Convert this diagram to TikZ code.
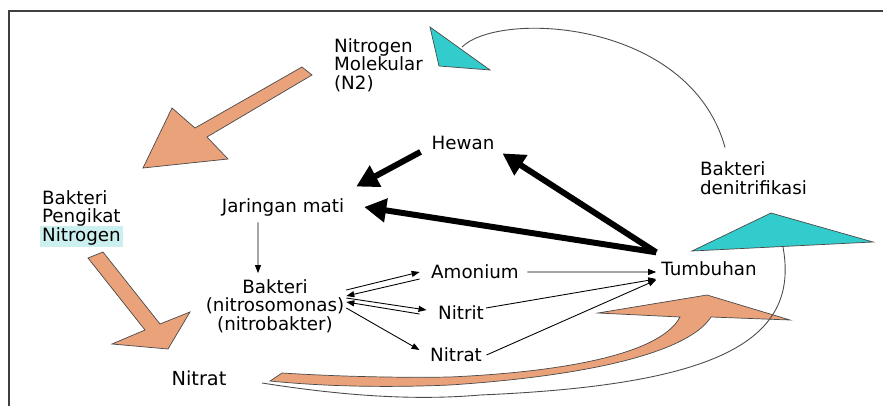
\documentclass[tikz,border=0pt]{standalone}
\usepackage{fontspec}
\setmainfont{DejaVu Sans}
\usepackage{tikz}
\usetikzlibrary{arrows.meta,positioning,calc}
\definecolor{CycleOrange}{HTML}{E9A27A}
\definecolor{CycleCyan}{HTML}{33CCCC}
\definecolor{CycleMark}{HTML}{CCEFEF}
\definecolor{CycleEdge}{HTML}{4A4A4A}

\begin{document}
\begin{tikzpicture}[
    term/.style={
      inner sep=1pt,
      font=\fontsize{10.4}{10.6}\selectfont
    },
    flow/.style={
      line width=0.5pt,
      -{Triangle[length=1.6mm,width=1.2mm]}
    },
    feed/.style={
      line width=3.4pt,
      -{Triangle[length=4.4mm,width=4.6mm]}
    },
    blob/.style={
      draw=CycleEdge,
      line width=0.4pt,
      fill=CycleOrange
    },
    wedge/.style={
      draw=CycleEdge,
      line width=0.4pt,
      fill=CycleCyan
    },
    cycleline/.style={
      line width=0.5pt,
      color=CycleEdge
    },
    frame/.style={
      line width=1.2pt,
      color=black!75
    }
  ]

  % Frame
  \useasboundingbox (0,0) rectangle (17.66,8.1);
  \draw[frame] (17.9,7.88) -- (0.18,7.88) -- (0.18,-0.2);

  % Terms
  \node[term,align=left,anchor=west] (n2) at (6.64,6.8) {Nitrogen\\Molekular\\(N2)};
  \node[term] (hew) at (9.26,5.24) {Hewan};
  \node[term,align=left,anchor=west] (den) at (13.96,4.54) {Bakteri\\denitrifikasi};
  \node[term,align=left,anchor=west] (fix) at (0.8,3.78)
    {Bakteri\\Pengikat\\{\setlength{\fboxsep}{1.2pt}\hspace*{-1.2pt}\smash{\colorbox{CycleMark}{Nitrogen}}}};
  \node[term] (jar) at (5.66,3.96) {Jaringan mati};
  \node[term,align=center] (bak) at (5.5,1.98) {Bakteri\\(nitrosomonas)\\(nitrobakter)};
  \node[term] (amo) at (9.5,2.66) {Amonium};
  \node[term] (nit) at (9.22,1.84) {Nitrit};
  \node[term] (nat) at (9.12,1.0) {Nitrat};
  \node[term] (tum) at (14.18,2.72) {Tumbuhan};
  \node[term,font=\fontsize{11}{12}\selectfont] (soil) at (3.98,0.54) {Nitrat};

  % Big arrows
  \draw[blob] (6.04,6.76) -- (3.9,5.54) -- (3.44,5.94) -- (2.86,4.74)
    -- (4.56,4.92) -- (4.14,5.36) -- (6.24,6.6) -- cycle;
  \draw[blob] (1.76,2.94) -- (2.9,1.5) -- (2.24,1.22) -- (3.36,1.12)
    -- (3.8,1.86) -- (3.2,1.62) -- (2.06,3.06) -- cycle;
  \draw[blob] (5.64,0.64) .. controls (6.6,0.58) and (7.8,0.54) .. (9.0,0.56)
    .. controls (11.2,0.66) and (13.2,1.0) .. (13.6,1.76) -- (11.96,1.84)
    -- (14.14,2.2) -- (15.8,1.7) -- (14.22,1.76)
    .. controls (13.8,1.1) and (12.0,0.6) .. (9.0,0.4)
    .. controls (7.6,0.34) and (6.4,0.38) .. (5.4,0.48) -- cycle;

  % Wedges
  \draw[wedge] (8.6,7.56) -- (8.78,6.78) -- (9.8,6.7) -- cycle;
  \draw[wedge] (13.84,3.08) -- (15.42,3.84) -- (17.46,3.26) -- cycle;

  % Return lines
  \coordinate (topcap) at (9.24,7.16);
  \coordinate (lowcap) at (15.66,3.16);
  \coordinate (lowend) at (5.24,0.44);
  \draw[cycleline] (topcap) .. controls (10.0,7.9) and (13.8,7.7)
    .. ([shift={(-0.57,0.24)}]den.north);
  \draw[cycleline] (lowcap) .. controls (16.0,1.3) and (14.4,0.4) .. (9.6,0.2)
    .. controls (8.0,0.06) and (6.4,0.26) .. (lowend);

  % Food chain
  \draw[feed] ([shift={(-0.06,0.15)}]tum.north west) -- ([shift={(0.12,-0.03)}]hew.south east);
  \draw[feed] ([shift={(-0.06,0.15)}]tum.north west) -- ([xshift=3.6mm]jar.east);
  \draw[feed] ([xshift=-1.8mm]hew.south west) -- ([shift={(0.2,0.19)}]jar.north east);

  % Decay and uptake
  \draw[flow] ([xshift=-5mm,yshift=-0.9mm]jar.south) -- ([xshift=-3.4mm,yshift=0.8mm]bak.north);
  \draw[flow] ([yshift=3.2mm]bak.east) -- ([xshift=-1.9mm]amo.west);
  \draw[flow] ([xshift=-1.9mm,yshift=-1.4mm]amo.west) -- ([yshift=2mm]bak.east);
  \draw[flow] ([yshift=1.6mm]bak.east) -- ([xshift=-1.9mm,yshift=0.6mm]nit.west);
  \draw[flow] ([xshift=-3.3mm,yshift=-0.2mm]nit.west) -- ([yshift=0.8mm]bak.east);
  \draw[flow] ([yshift=-0.4mm]bak.east) -- ([xshift=-1.7mm,yshift=1mm]nat.west);
  \draw[flow] ([xshift=1.3mm]amo.east) -- ([xshift=-0.6mm,yshift=-0.6mm]tum.west);
  \draw[flow] ([yshift=1mm]nit.east) -- ([xshift=-0.6mm,yshift=-2mm]tum.west);
  \draw[flow] ([xshift=0.5mm]nat.east) -- ([xshift=-0.6mm,yshift=-2.2mm]tum.west);

\end{tikzpicture}
\end{document}
